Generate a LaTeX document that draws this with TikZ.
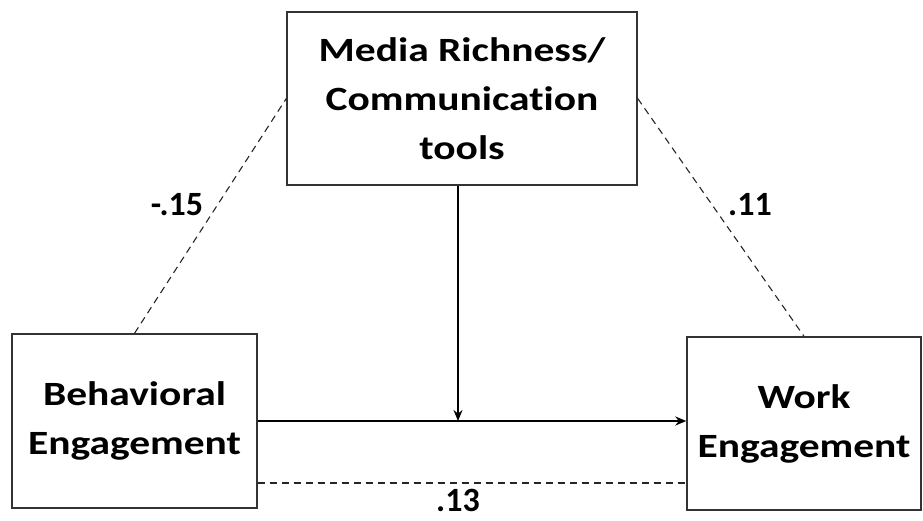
\documentclass[tikz,border=0pt]{standalone}
\usepackage{fontspec}
\setmainfont{Carlito}[RawFeature=-liga]
\newfontfamily\boxfont{Carlito}[FakeStretch=1.22, RawFeature=-liga]
\usetikzlibrary{arrows.meta,calc}
\begin{document}
\begin{tikzpicture}[x=1pt,y=-1pt,
  box/.style={draw=black!80, line width=1.4pt, fill=white, align=center, inner sep=0pt,
    font=\boxfont\fontsize{34}{49}\selectfont\bfseries},
  lbl/.style={font=\fontsize{34}{40}\selectfont\bfseries, inner sep=0pt},
  solidarrow/.style={line width=1.8pt, -{Stealth[length=11pt,width=9pt]}},
  dashline/.style={line width=1.1pt, dash pattern=on 7pt off 5pt, black!85}]
\useasboundingbox (0,0) rectangle (923,520);
\fill[white] (0,0) rectangle (923,520);
\node[box, minimum width=350pt, minimum height=173pt] (med) at (462,98.5) {Media Richness/\\Communication\\tools};
\node[box, minimum width=245pt, minimum height=174pt] (beh) at (134.5,421) {Behavioral\\Engagement};
\node[box, minimum width=234pt, minimum height=173pt] (work) at (804,423.5) {Work\\Engagement};
\coordinate (meet) at ([xshift=-4pt]med.south |- beh.east);
\draw[dashline] (beh.north) -- (med.west);
\draw[dashline] (med.east) -- (work.north);
\draw[solidarrow] (beh.east) -- (beh.east -| work.west);
\draw[solidarrow] ([xshift=-4pt]med.south) -- (meet);
\draw[dashline] ([yshift=-62pt]beh.east) -- ([yshift=-62pt]beh.east -| work.west);
\node[lbl] (l1) at (177,205) {-.15};
\node[lbl] (l2) at (750,205) {.11};
\node[lbl] (l3) at (458,500) {.13};
\end{tikzpicture}
\end{document}
